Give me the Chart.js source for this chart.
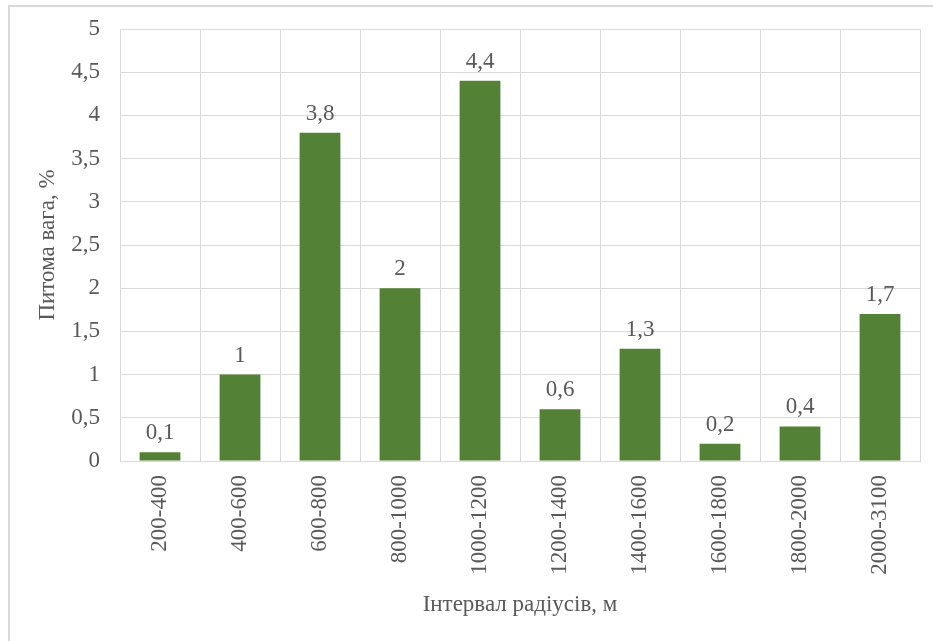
<!DOCTYPE html>
<html>
<head>
<meta charset="utf-8">
<script src="https://cdn.jsdelivr.net/npm/chart.js@4/dist/chart.umd.min.js"></script>
<style>
  html, body { margin: 0; padding: 0; background: #fff; }
  #wrap { position: relative; width: 933px; height: 641px; }
  #frame {
    position: absolute; left: 8px; top: 5px; right: 0; bottom: 0;
    border-top: 2px solid #d9d9d9; border-left: 2px solid #d9d9d9;
    pointer-events: none;
  }
  canvas { position: absolute; left: 0; top: 0; }
</style>
</head>
<body>
<div id="wrap">
  <canvas id="chart" width="933" height="641"></canvas>
  <div id="frame"></div>
</div>
<script>
// ── Дані
const categories = ['200-400', '400-600', '600-800', '800-1000', '1000-1200',
                    '1200-1400', '1400-1600', '1600-1800', '1800-2000', '2000-3100'];
const shares     = [0.1, 1, 3.8, 2, 4.4, 0.6, 1.3, 0.2, 0.4, 1.7];
const yTicks     = [0, 0.5, 1, 1.5, 2, 2.5, 3, 3.5, 4, 4.5, 5];

const TEXT  = '#595959';
const GRID  = '#d9d9d9';
const FONT  = '"Liberation Serif", "Times New Roman", serif';
const comma = (v) => String(v).replace('.', ',');

// підписи значень над стовпчиками
const valueLabels = {
    id: 'valueLabels',
    afterDatasetsDraw(chart) {
        const ctx = chart.ctx;
        const meta = chart.getDatasetMeta(0);
        ctx.save();
        ctx.fillStyle = TEXT;
        ctx.font = `23px ${FONT}`;
        ctx.textAlign = 'center';
        ctx.textBaseline = 'alphabetic';
        meta.data.forEach((bar, i) => {
            ctx.fillText(comma(shares[i]), bar.x, bar.y - 13);
        });
        ctx.restore();
    }
};

new Chart(document.getElementById('chart'), {
    type: 'bar',
    data: {
        labels: categories,
        datasets: [{
            data:               shares,
            backgroundColor:    '#538135',
            borderWidth:        0,
            categoryPercentage: 1,
            barPercentage:      0.51
        }]
    },
    options: {
        responsive: false,
        animation:  false,
        layout: { padding: { left: 0, top: 29, right: 13, bottom: 0 } },
        plugins: {
            legend:  { display: false },
            tooltip: { enabled: false }
        },
        scales: {
            x: {
                grid:   { color: GRID, lineWidth: 1, drawTicks: false, offset: true },
                border: { color: GRID, width: 1 },
                ticks: {
                    color: TEXT, font: { family: FONT, size: 23 },
                    minRotation: 90, maxRotation: 90, padding: 14, autoSkip: false
                },
                title: {
                    display: true, text: 'Інтервал радіусів, м',
                    color: TEXT, font: { family: FONT, size: 23 },
                    padding: { top: 0, bottom: 22 }
                },
                afterFit: (s) => { s.height = 180; s.paddingLeft = 0; s.paddingRight = 0; }
            },
            y: {
                min: 0, max: 5,
                grid:   { color: GRID, lineWidth: 1, drawTicks: false },
                border: { display: false },
                afterBuildTicks: (s) => { s.ticks = yTicks.map(v => ({ value: v })); },
                ticks: {
                    color: TEXT, font: { family: FONT, size: 23 }, padding: 20,
                    callback: (v) => comma(v)
                },
                title: {
                    display: true, text: 'Питома вага, %',
                    color: TEXT, font: { family: FONT, size: 23 },
                    padding: { top: 34, bottom: 0 }
                },
                afterFit: (s) => { s.width = 120; s.paddingTop = 0; s.paddingBottom = 0; }
            }
        }
    },
    plugins: [valueLabels]
});
</script>
</body>
</html>
